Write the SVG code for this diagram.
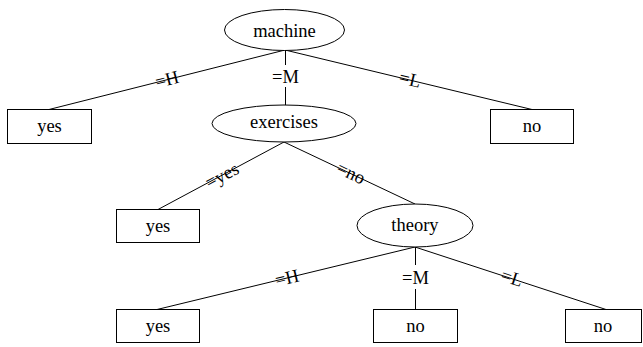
<svg xmlns="http://www.w3.org/2000/svg" width="643" height="347" viewBox="0 0 643 347">
<style>
text{font-family:'Liberation Serif','Times New Roman',Times,'DejaVu Serif',serif;font-size:18.5px;fill:#000;text-anchor:middle}
.n{fill:#fff;stroke:#000;stroke-width:1}
.e{stroke:#000;stroke-width:1;fill:none}
</style>
<rect width="643" height="347" fill="#fff"/>
<g id="connectors">
<line class="e" x1="285" y1="50" x2="49" y2="109.5"/>
<line class="e" x1="285" y1="50" x2="532" y2="109.5"/>
<line class="e" x1="285.5" y1="50" x2="285.5" y2="65"/>
<line class="e" x1="285.5" y1="87" x2="285.5" y2="105"/>
<line class="e" x1="284" y1="142" x2="158" y2="209.5"/>
<line class="e" x1="284" y1="142" x2="415" y2="204"/>
<line class="e" x1="415" y1="247" x2="157" y2="309.5"/>
<line class="e" x1="415" y1="247" x2="606" y2="309.5"/>
<line class="e" x1="415.5" y1="247" x2="415.5" y2="265"/>
<line class="e" x1="415.5" y1="289" x2="415.5" y2="309"/>
<text font-family="Liberation Serif, serif" transform="translate(167,79.5) rotate(-14.2)" y="6">=H</text>
<text font-family="Liberation Serif, serif" x="285.5" y="83">=M</text>
<text font-family="Liberation Serif, serif" transform="translate(410,79.5) rotate(13.4)" y="6">=L</text>
<text font-family="Liberation Serif, serif" transform="translate(222,175.5) rotate(-28.2)" y="6">=yes</text>
<text font-family="Liberation Serif, serif" transform="translate(351,173) rotate(25.3)" y="6">=no</text>
<text font-family="Liberation Serif, serif" transform="translate(287,278) rotate(-13.5)" y="6">=H</text>
<text font-family="Liberation Serif, serif" x="415.5" y="284">=M</text>
<text font-family="Liberation Serif, serif" transform="translate(512,278) rotate(18)" y="6">=L</text>
</g>
<g id="machine"><ellipse class="n" cx="284.5" cy="30" rx="60" ry="20.5"/><text x="284.5" y="37">machine</text></g>
<g id="yes1"><rect class="n" x="7.5" y="109.5" width="84" height="34"/><text x="49.5" y="132">yes</text></g>
<g id="exercises"><ellipse class="n" cx="284" cy="123.5" rx="72" ry="18.5"/><text x="284" y="128">exercises</text></g>
<g id="no1"><rect class="n" x="490.5" y="109.5" width="83" height="34"/><text x="532" y="132">no</text></g>
<g id="yes2"><rect class="n" x="116.5" y="209.5" width="83" height="33"/><text x="158" y="232">yes</text></g>
<g id="theory"><ellipse class="n" cx="415" cy="225.5" rx="58" ry="21.5"/><text x="415" y="231">theory</text></g>
<g id="yes3"><rect class="n" x="116.5" y="309.5" width="83" height="33"/><text x="158" y="332">yes</text></g>
<g id="no2"><rect class="n" x="373.5" y="309.5" width="84" height="33"/><text x="415.5" y="332">no</text></g>
<g id="no3"><rect class="n" x="565.5" y="309.5" width="76" height="33"/><text x="603" y="332">no</text></g>
</svg>
